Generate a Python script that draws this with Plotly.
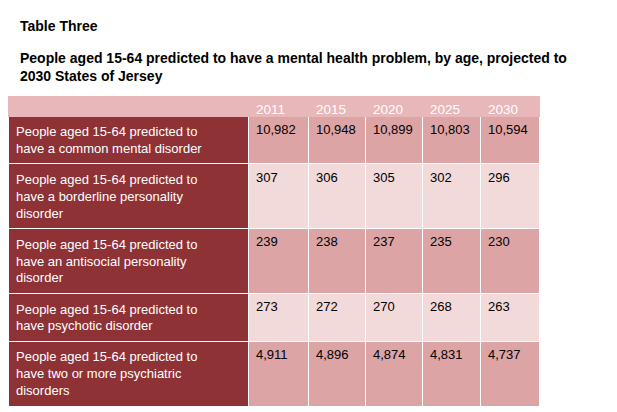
import plotly.graph_objects as go

years = ["2011", "2015", "2020", "2025", "2030"]
labels = [
    "People aged 15-64 predicted to<br>have a common mental disorder",
    "People aged 15-64 predicted to<br>have a borderline personality<br>disorder",
    "People aged 15-64 predicted to<br>have an antisocial personality<br>disorder",
    "People aged 15-64 predicted to<br>have psychotic disorder",
    "People aged 15-64 predicted to<br>have two or more psychiatric<br>disorders",
]
v2011 = ["10,982", "307", "239", "273", "4,911"]
v2015 = ["10,948", "306", "238", "272", "4,896"]
v2020 = ["10,899", "305", "237", "270", "4,874"]
v2025 = ["10,803", "302", "235", "268", "4,831"]
v2030 = ["10,594", "296", "230", "263", "4,737"]

dark = "#8e3236"
med = "#dda4a6"
light = "#f2dadb"
rowcols = [med, light, med, light, med]

fig = go.Figure(go.Table(
    domain=dict(x=[0, 531/617], y=[0, 1-88/412]),
    columnwidth=[240, 60, 57, 57, 58, 59],
    header=dict(values=[""] + years, fill_color="#e7b7b9",
                font=dict(family="Arial", size=13.5, color="white"),
                align="left", height=20, line=dict(color="#e7b7b9", width=1)),
    cells=dict(values=[labels, v2011, v2015, v2020, v2025, v2030],
               fill_color=[[dark]*5] + [rowcols]*5,
               font=dict(family="Arial", size=13, color=[["white"]*5] + [["black"]*5]*5),
               align="left", height=14, line=dict(color="white", width=1)),
))
fig.add_annotation(x=10/617, y=1-18/412, xref="paper", yref="paper", xanchor="left", yanchor="middle",
                   text="<b>Table Three</b>", showarrow=False, font=dict(family="Arial", size=14, color="black"))
fig.add_annotation(x=10/617, y=1-59/412, xref="paper", yref="paper", xanchor="left", yanchor="middle", align="left",
                   text="<b>People aged 15-64 predicted to have a mental health problem, by age, projected to<br>2030 States of Jersey</b>",
                   showarrow=False, font=dict(family="Arial", size=14, color="black"))
fig.update_layout(width=617, height=412, margin=dict(l=0, r=0, t=0, b=0),
                  paper_bgcolor="white", plot_bgcolor="white")
fig.write_html("out.html")
